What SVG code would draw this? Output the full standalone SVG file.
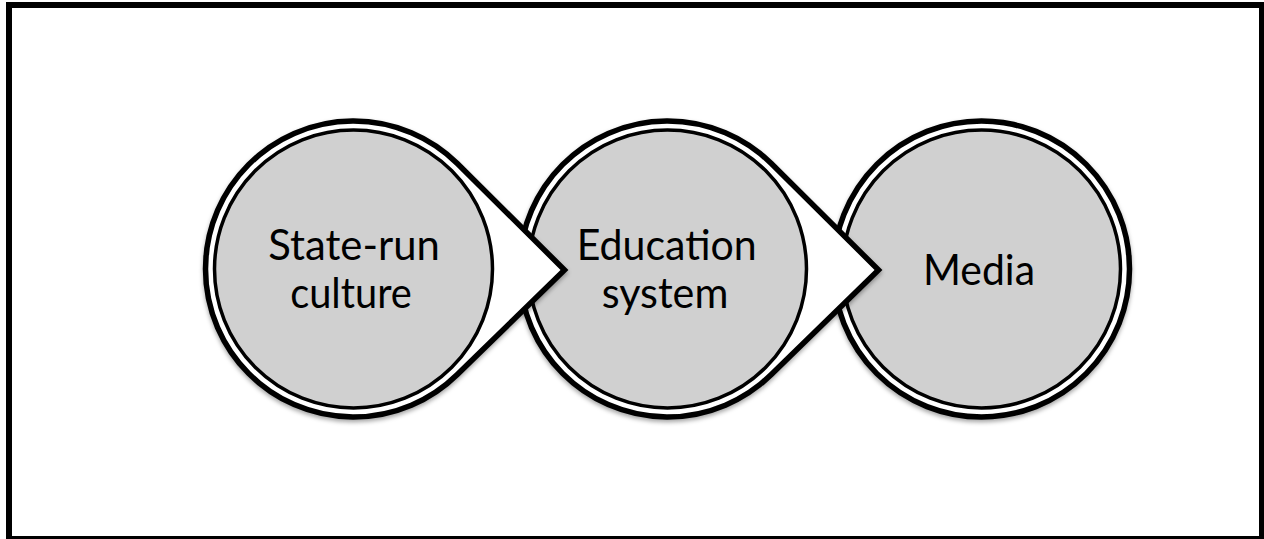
<svg xmlns="http://www.w3.org/2000/svg" width="1264" height="539" viewBox="0 0 1264 539">
  <style>
    .frame { fill: #ffffff; stroke: #000000; stroke-width: 6; }
    .pointer { fill: #ffffff; stroke: #000000; stroke-width: 5.5; stroke-linejoin: miter; stroke-miterlimit: 10; filter: url(#shade); }
    .disc { fill: #d0d0d0; stroke: #000000; stroke-width: 3.5; }
    .label { font-family: "Lato", "Liberation Sans", sans-serif; font-size: 42px; fill: #000000; text-anchor: middle; }
  </style>
  <defs>
    <filter id="shade" x="-10%" y="-10%" width="120%" height="125%">
      <feDropShadow dx="0" dy="2.5" stdDeviation="2" flood-color="#000000" flood-opacity="0.35"/>
    </filter>
  </defs>

  <!-- outer frame -->
  <rect class="frame" x="9" y="5" width="1253" height="534"/>

  <!-- nodes are drawn right to left so each pointer overlaps the next circle -->
  <g id="node-media">
    <circle class="pointer" cx="981.5" cy="269" r="148"/>
    <circle class="disc" cx="981.5" cy="269" r="139"/>
    <text class="label" x="979" y="285" textLength="112" lengthAdjust="spacingAndGlyphs">Media</text>
  </g>

  <g id="node-education">
    <path class="pointer" d="M 878.5 270 L 771.3 163.5 A 148 148 0 1 0 771.3 374.5 Z"/>
    <circle class="disc" cx="667.5" cy="269" r="139"/>
    <text class="label" x="666.7" y="260" textLength="180" lengthAdjust="spacingAndGlyphs">Education</text>
    <text class="label" x="665" y="308.3" textLength="126.7" lengthAdjust="spacingAndGlyphs">system</text>
  </g>

  <g id="node-culture">
    <path class="pointer" d="M 564.5 270 L 457.3 163.5 A 148 148 0 1 0 457.3 374.5 Z"/>
    <circle class="disc" cx="353.5" cy="269" r="139"/>
    <text class="label" x="354" y="260" textLength="171.5" lengthAdjust="spacingAndGlyphs">State-run</text>
    <text class="label" x="351" y="308.3" textLength="121.7" lengthAdjust="spacingAndGlyphs">culture</text>
  </g>

  <!-- the pointers above are the connectors; no separate lines -->
  <g id="connectors"/>
</svg>
